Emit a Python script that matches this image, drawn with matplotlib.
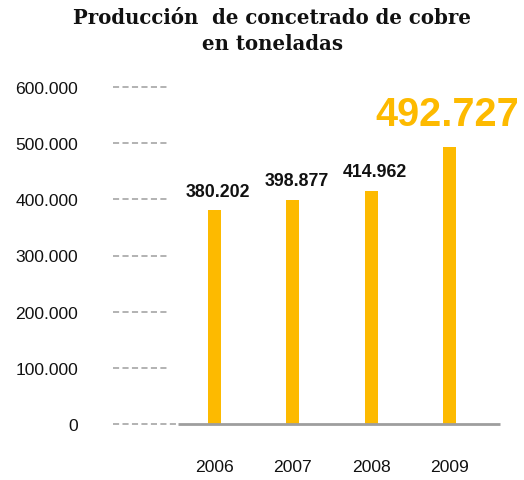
import matplotlib
matplotlib.use("Agg")
import matplotlib.pyplot as plt

# Copper concentrate production, tonnes per year
years = ["2006", "2007", "2008", "2009"]
production = [380202, 398877, 414962, 492727]
value_labels = ["380.202", "398.877", "414.962", "492.727"]
y_ticks = [0, 100000, 200000, 300000, 400000, 500000, 600000]
y_tick_labels = ["0", "100.000", "200.000", "300.000", "400.000", "500.000", "600.000"]

GOLD = "#FDBA00"
GREY = "#9E9E9E"
SANS = ["Liberation Sans", "DejaVu Sans"]

W, H = 524, 481
fig = plt.figure(figsize=(W / 100, H / 100), dpi=100)

# axes placed in pixel units
left, right, bottom, top = 113, 500, 425.3, 87.7
ax = fig.add_axes([left / W, 1 - bottom / H, (right - left) / W, (bottom - top) / H])

xs = list(range(len(years)))
step = 78.3
ax.set_xlim((left - 214.5) / step, (right - 214.5) / step)
ax.set_ylim(0, 600000)

ax.bar(xs, production, width=13 / step, color=GOLD, zorder=3)

# short dashed guides next to the value axis
ytr = ax.get_yaxis_transform()
for v in y_ticks:
    x_end = 0.168 if v == 0 else 0.142
    ax.plot([0, x_end], [v, v], transform=ytr, color=GREY, lw=1.1,
            linestyle=(0, (4.0, 2.2)), clip_on=False, zorder=2)
# baseline
ax.plot([0.168, 1.0], [0, 0], transform=ytr, color=GREY, lw=2.0,
        solid_capstyle="butt", clip_on=False, zorder=4)

for s in ax.spines.values():
    s.set_visible(False)

ax.set_yticks(y_ticks)
ax.set_yticklabels(y_tick_labels, family=SANS, fontsize=12.6, color="#111111")
ax.set_xticks(xs)
ax.set_xticklabels(years, family=SANS, fontsize=12.6, color="#111111")
ax.tick_params(axis="y", length=0, pad=25)
ax.tick_params(axis="x", length=0, pad=25)

for i, (v, lab) in enumerate(zip(production, value_labels)):
    if i == len(production) - 1:
        ax.annotate(lab, (i, v), xytext=(-1.5, 16.0), textcoords="offset points",
                    ha="center", va="baseline", family=SANS, fontweight="bold",
                    fontsize=28.5, color=GOLD, annotation_clip=False)
    else:
        ax.annotate(lab, (i, v), xytext=(2.5, 10.5), textcoords="offset points",
                    ha="center", va="baseline", family=SANS, fontweight="bold",
                    fontsize=12.8, color="#111111", annotation_clip=False)

title_kw = dict(ha="center", va="baseline", family=["DejaVu Serif"],
                fontweight="bold", fontsize=14.2, color="#111111")
fig.text(272 / W, 1 - 24 / H, "Producción  de concetrado de cobre", **title_kw)
fig.text(272 / W, 1 - 50.5 / H, "en toneladas", **title_kw)

fig.savefig("out.png", dpi=100, facecolor="white")
